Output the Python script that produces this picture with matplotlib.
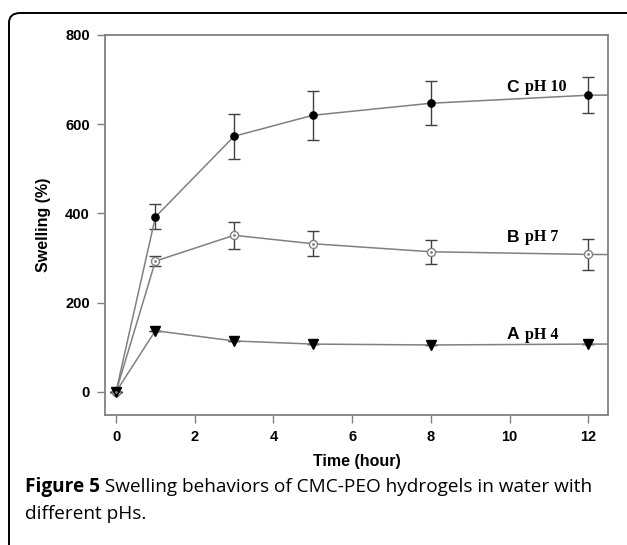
import matplotlib
matplotlib.use("Agg")
import matplotlib.pyplot as plt
from matplotlib.patches import FancyBboxPatch

# Data; final point at t=24 only carries the line to the right edge
time = [0, 1, 3, 5, 8, 12, 24]
swell_C = [0, 392, 573, 620, 647, 665, 672]
err_C = [0, 28, 50, 55, 49, 40, 0]
swell_B = [0, 293, 351, 332, 314, 308, 300]
err_B = [0, 11, 30, 28, 27, 35, 0]
swell_A = [0, 137, 114, 107, 105, 107, 108]
err_A = [0, 0, 0, 0, 0, 0, 0]

series_labels = [("C", "pH 10"), ("B", "pH 7"), ("A", "pH 4")]
label_y = [683, 346, 128]
xticks = [0, 2, 4, 6, 8, 10, 12]
yticks = [0, 200, 400, 600, 800]
caption_bold = "Figure 5"
caption_line1 = " Swelling behaviors of CMC-PEO hydrogels in water with"
caption_line2 = "different pHs."

W, H = 627, 545
fig = plt.figure(figsize=(W / 100, H / 100), dpi=100)

# outer rounded frame
frame = FancyBboxPatch((9 / W, -0.2), 1.2, 1.2 - 13 / H,
                       boxstyle="round,pad=0,rounding_size=0.018",
                       transform=fig.transFigure, fill=False,
                       edgecolor="black", linewidth=1.4, clip_on=False)
fig.patches.append(frame)

ax = fig.add_axes([105 / W, 1 - 415 / H, (608 - 105) / W, (415 - 35) / H])

grey = "#808080"
for ys, es, mk, mfc in [(swell_C, err_C, "o", "black"),
                        (swell_B, err_B, "o", "white"),
                        (swell_A, err_A, "v", "black")]:
    ax.errorbar(time, ys, yerr=es, color=grey, linewidth=1.1,
                ecolor="#404040", elinewidth=1.0, capsize=4.5, capthick=1.0,
                marker=mk, markersize=6.5 if mk == "v" else (5.2 if mfc == "black" else 5.8),
                markerfacecolor=mfc, markeredgecolor="black" if mfc == "black" else grey,
                markeredgewidth=1.0, zorder=3)
# dot inside open circles
ax.plot(time, swell_B, linestyle="none", marker=".", markersize=2, color=grey, zorder=4)

for (letter, ph), yv in zip(series_labels, label_y):
    ax.text(9.92, yv, letter, fontsize=12.5, fontweight="bold",
            family="Liberation Sans", ha="left", va="center")
    ax.text(10.4, yv, ph, fontsize=11.5, fontweight="bold",
            family="Liberation Serif", ha="left", va="center")

ax.set_xlim(-0.28, 12.5)
ax.set_ylim(-52, 800)
ax.set_xticks(xticks)
ax.set_yticks(yticks)
for s in ax.spines.values():
    s.set_color(grey)
    s.set_linewidth(1.3)
ax.tick_params(direction="out", length=6, width=1.0, color=grey,
               labelsize=10.5, pad=5)
for lab in ax.get_xticklabels() + ax.get_yticklabels():
    lab.set_fontweight("bold")
    lab.set_family("Liberation Sans")
ax.set_xlabel("Time (hour)", fontsize=11.5, fontweight="bold", family="Liberation Sans", labelpad=7)
ax.set_ylabel("Swelling (%)", fontsize=11.5, fontweight="bold", family="Liberation Sans", labelpad=10)

# caption
cap_font = "Open Sans"
cap_size = 13
fig.canvas.draw()
r = fig.canvas.get_renderer()
tb = fig.text(25 / W, 1 - 487 / H, caption_bold, fontsize=cap_size, fontweight="bold",
              va="center", ha="left", family=cap_font)
tr = fig.text(0, 1 - 487 / H, caption_line1, fontsize=cap_size, va="center", ha="left",
              family=cap_font)
# scale font so line fits the reference width (~565 px)
wb = tb.get_window_extent(r).width
wr = tr.get_window_extent(r).width
scale = 565 / (wb + wr)
cap_size *= scale
tb.set_fontsize(cap_size)
tr.set_fontsize(cap_size)
wb = tb.get_window_extent(r).width
tr.set_x((25 + wb) / W)
fig.text(25 / W, 1 - 514 / H, caption_line2, fontsize=cap_size, va="center", ha="left",
         family=cap_font)

fig.savefig("out.png", dpi=100)
